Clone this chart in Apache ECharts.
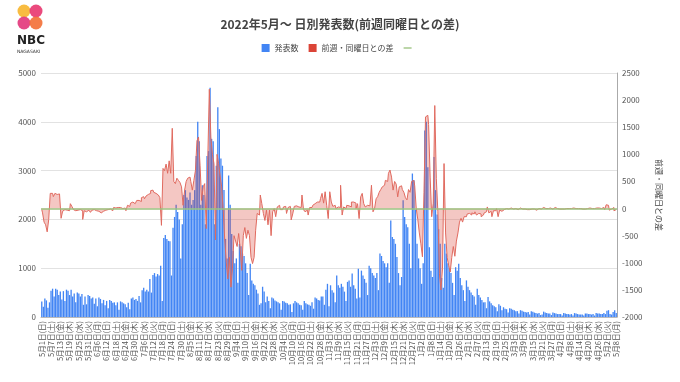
<!DOCTYPE html>
<html><head><meta charset="utf-8">
<script src="https://cdn.jsdelivr.net/npm/echarts@6/dist/echarts.min.js"></script>
<style>html,body{margin:0;padding:0;background:#fff}#c{width:680px;height:382px}</style>
</head><body><div id="c"></div>
<script>
const TITLE = '2022年5月～ 日別発表数(前週同曜日との差)';
const SERIES_NAMES = ['発表数', '前週・同曜日との差', ' '];
const RIGHT_AXIS_NAME = '前週・同曜日との差';
const WEEKDAYS = ['日','月','火','水','木','金','土'];
const START_DATE = [2022, 5, 1];

// daily announced counts (left axis)
const cnt_2022_05 = [320,210,380,340,190,300,540, 580,420,580,560,450,520,360, 530,330,560,540,450,560,420, 480,300,500,480,420,470,250, 420,260,450];
const cnt_2022_06 = [430,380,400,270, 380,220,400,370,280,350,240, 330,180,350,330,290,300,240, 300,150,320,300,280,260,200, 290,160,380,400,350];
const cnt_2022_07 = [370,330, 430,300,550,600,520,560,520, 780,500,860,900,830,880,850, 1050,330,1620,1680,1600,1560,1550, 850,1830,2050,2300,2150,2000,1200, 1900];
const cnt_2022_08 = [2500,2600,2450,2400,2550,2300, 2400,2600,3300,4000,3600,2300,2700, 2500,1900,3300,3400,4700,3650,3600, 1900,3100,4300,3850,3250,3100,2600, 1600,1200,2900,2300];
const cnt_2022_09 = [1700,1350,1100, 1200,700,1500,1450,1300,1250,1100, 900,450,1090,750,680,650,560, 480,250,280,620,520,300,420, 330,180,400,380,340,320];
const cnt_2022_10 = [300, 280,150,330,320,290,280,250, 260,100,280,330,300,280,250, 240,150,330,280,260,250,230, 300,170,400,380,350,340,420, 420,250];
const cnt_2022_11 = [560,680,220,650,550, 500,300,850,650,600,680,620, 520,330,720,750,620,890,650, 580,380,990,400,950,850,780, 700,450,1050,1000];
const cnt_2022_12 = [900,850,800, 900,550,1300,1250,1150,1100,1020, 1100,700,1980,1640,1600,1500,1230, 900,650,820,2390,2050,1900,1840, 1500,1000,2940,2800,2200,1500,1200];
const cnt_2023_01 = [1000,680,1100,3820,4000,3070,1430, 950,820,3280,2600,2100,1800,1500, 800,600,1500,1300,1100,1000,900, 700,450,1020,950,1090,800,650, 550,330,750];
const cnt_2023_02 = [620,550,500,450, 420,250,580,450,400,350,300, 300,180,410,320,280,240,220, 200,120,260,230,140,200,170, 160,90,180];
const cnt_2023_03 = [170,150,140,120, 120,70,140,130,110,100,90, 100,50,120,110,90,80,70, 80,40,50,110,90,80,70, 70,40,90,80,70,60];
const cnt_2023_04 = [60, 60,30,80,70,60,60,50, 60,30,80,70,60,50,50, 50,30,70,70,60,60,50, 60,30,80,70,70,60,60, 80];
const cnt_2023_05 = [60,130,140,60,50,100,140,80];

// difference vs same weekday of the previous week (right axis)
const dif_2022_05 = [-20,-80,-250,-300,-430,-200,280, 280,220,280,260,270,240,-180, -50,-20,-30,-10,-40,90,40, -20,-40,-30,-50,-20,-40,-200, -40,-60,-30];
const dif_2022_06 = [-50,-70,-30,-20, -40,-60,-50,-80,-110,-50,-30, -40,-20,-10,-30,-40,20,10, 20,10,20,0,-10,10,-40, 60,40,100,120,90];
const dif_2022_07 = [110,150, 150,130,200,220,180,230,260, 280,330,340,300,280,250,230, 200,-310,740,700,820,650,880, 650,1480,500,460,560,520,480, 400];
const dif_2022_08 = [60,340,500,560,580,500, 340,520,700,1250,1320,800,150, 400,460,-370,900,2200,1320,1000, 830,-580,1000,830,600,400,-30, -580,-1000,-1300,-900];
const dif_2022_09 = [-1450,-1100,-500, -600,-700,-460,-750,-1140,-500,-350, -550,-400,-500,-900,-1015,-900,-400, -90,-120,250,90,-90,-220,-30, -300,-30,-500,-60,0,-150];
const dif_2022_10 = [30, 60,-20,-20,30,40,-90,20, 40,-210,-100,40,50,30,40, 20,250,-20,-60,-30,-120,20, 20,60,90,120,150,120,185, 280,100];
const dif_2022_11 = [310,60,-185,310,120, 40,60,0,30,20,430,-120, 30,0,60,50,30,120,120, 100,0,90,-185,215,280,90, 30,60,50,60];
const dif_2022_12 = [430,-60,0, 180,220,300,350,400,430,520, 500,650,710,580,340,500,450, 215,400,420,350,300,200,160, 350,300,500,520,420,0,-200];
const dif_2023_01 = [-450,-650,-890,300,1690,1720,1550, 580,-150,100,1900,550,-60,-1200, -1500,-1100,830,-450,-900,-1050,-1170, -900,-700,-880,-600,-450,-250,-180, -250,-150,-150];
const dif_2023_02 = [-100,-90,-120,-80, -100,-60,-120,-90,-100,-150,-120, -80,-60,30,-80,-50,-150,-40, -40,0,-150,-30,-50,-20,-30, 0,-10,-20];
const dif_2023_03 = [10,-10,-20,0, -20,-30,10,-10,-20,-10,-20, -10,-20,-10,-20,-10,-30,-20, 0,-10,-30,20,0,-10,0, 10,0,-10,20,-10,0];
const dif_2023_04 = [-10, 0,-10,-10,-10,0,0,-10, 0,10,0,0,0,-10,0, -10,0,-10,0,0,10,0, 10,0,10,0,10,0,0, 20];
const dif_2023_05 = [-20,70,60,-30,-10,20,-40,-20];

const LEFT_TICKS = {min: 0, max: 5000, interval: 1000};
const RIGHT_TICKS = {min: -2000, max: 2500, interval: 500};

const counts = [].concat(cnt_2022_05, cnt_2022_06, cnt_2022_07, cnt_2022_08, cnt_2022_09, cnt_2022_10,
  cnt_2022_11, cnt_2022_12, cnt_2023_01, cnt_2023_02, cnt_2023_03, cnt_2023_04, cnt_2023_05);
const diffs = [].concat(dif_2022_05, dif_2022_06, dif_2022_07, dif_2022_08, dif_2022_09, dif_2022_10,
  dif_2022_11, dif_2022_12, dif_2023_01, dif_2023_02, dif_2023_03, dif_2023_04, dif_2023_05);

const t0 = Date.UTC(START_DATE[0], START_DATE[1]-1, START_DATE[2]);
const categories = counts.map((_, i) => {
  const d = new Date(t0 + i * 86400000);
  return (d.getUTCMonth()+1) + '月' + d.getUTCDate() + '日(' + WEEKDAYS[d.getUTCDay()] + ')';
});

const FONT = '"Noto Sans CJK JP", "Noto Sans", sans-serif';
const plain = v => String(v);
const chart = echarts.init(document.getElementById('c'), null, {renderer: 'canvas'});
chart.setOption({
  animation: false,
  textStyle: {fontFamily: FONT},
  title: {text: TITLE, left: 'center', top: 13,
    textStyle: {fontSize: 12, fontWeight: 'bold', color: '#444', fontFamily: FONT}},
  legend: {top: 39, left: 'center', itemWidth: 8, itemHeight: 8, itemGap: 10,
    textStyle: {fontSize: 8, color: '#444', fontFamily: FONT},
    data: [{name: SERIES_NAMES[0], icon: 'rect'}, {name: SERIES_NAMES[1], icon: 'rect'},
           {name: SERIES_NAMES[2], icon: 'path://M0,0H12V2H0Z'}]},
  grid: {left: 41, right: 63, top: 73, bottom: 65},
  xAxis: {type: 'category', data: categories,
    axisLabel: {interval: 5, rotate: 90, fontSize: 7.5, color: '#555', margin: 4, fontFamily: FONT},
    axisTick: {show: false}, axisLine: {lineStyle: {color: '#bbb'}}},
  yAxis: [
    {type: 'value', min: LEFT_TICKS.min, max: LEFT_TICKS.max, interval: LEFT_TICKS.interval,
      axisLabel: {fontSize: 8, color: '#555', margin: 5, formatter: plain},
      splitLine: {lineStyle: {color: '#e2e2e2'}}, axisLine: {show: false}, axisTick: {show: false}},
    {type: 'value', position: 'right', min: RIGHT_TICKS.min, max: RIGHT_TICKS.max, interval: RIGHT_TICKS.interval,
      name: RIGHT_AXIS_NAME, nameLocation: 'middle', nameRotate: -90, nameGap: 38,
      nameTextStyle: {fontSize: 8, color: '#444', fontFamily: FONT},
      axisLabel: {fontSize: 8, color: '#555', margin: 5, formatter: plain},
      splitLine: {show: false}, axisTick: {show: false},
      axisLine: {show: true, lineStyle: {color: '#aaa'}}}
  ],
  series: [
    {name: SERIES_NAMES[0], type: 'bar', data: counts, barCategoryGap: '15%',
      itemStyle: {color: '#4285f4'}},
    {name: SERIES_NAMES[1], type: 'line', yAxisIndex: 1, data: diffs, step: 'middle',
      symbol: 'none', showSymbol: false,
      itemStyle: {color: '#db4437'},
      lineStyle: {color: '#e06a5f', width: 1},
      areaStyle: {color: '#db4437', opacity: 0.3},
      markLine: {silent: true, symbol: 'none', label: {show: false},
        lineStyle: {color: '#9bc27f', width: 1.5, type: 'solid'},
        data: [{yAxis: 0}]}},
    {name: SERIES_NAMES[2], type: 'line', yAxisIndex: 1, data: [],
      itemStyle: {color: '#9bc27f'}, lineStyle: {color: '#9bc27f'}}
  ],
  graphic: [
    {type: 'circle', shape: {cx: 24, cy: 11, r: 6.5}, style: {fill: '#f7b52c', opacity: 0.9}},
    {type: 'circle', shape: {cx: 36, cy: 11, r: 6.5}, style: {fill: '#e8366f', opacity: 0.9}},
    {type: 'circle', shape: {cx: 24, cy: 23, r: 6.5}, style: {fill: '#e2357a', opacity: 0.9}},
    {type: 'circle', shape: {cx: 36, cy: 23, r: 6.5}, style: {fill: '#f36f35', opacity: 0.9}},
    {type: 'text', left: 17, top: 35, style: {text: 'NBC', font: 'bold 12px "DejaVu Sans", sans-serif', fill: '#222'}},
    {type: 'text', left: 17, top: 49, style: {text: 'NAGASAKI', font: '4.5px "DejaVu Sans", sans-serif', fill: '#333'}}
  ]
});
</script></body></html>
